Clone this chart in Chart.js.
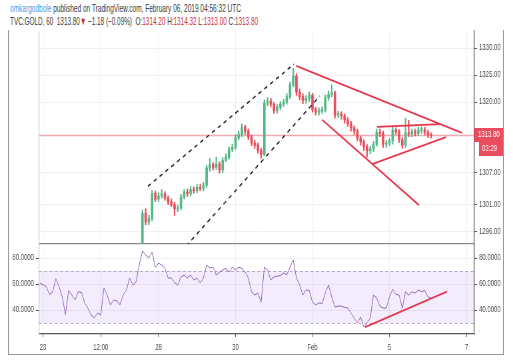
<!DOCTYPE html>
<html>
<head>
<meta charset="utf-8">
<script src="https://cdn.jsdelivr.net/npm/chart.js@4.4.0/dist/chart.umd.min.js"></script>
<style>
  body { margin: 0; width: 513px; height: 363px; background: #fff; overflow: hidden; position: relative;
         font-family: 'Liberation Sans', Arial, sans-serif; }
  canvas { position: absolute; left: 0; top: 0; }
  .hdr { position: absolute; left: 10px; white-space: nowrap; font-size: 11px; color: #3a3a3a; transform-origin: 0 0; }
  .r { color: #c9303c; }
  #frame { position: absolute; left: 8px; top: 30px; width: 494px; height: 324px; border: 1px solid #9a9a9a; border-top: none; }
</style>
</head>
<body>
<div class="hdr" style="top:2px" data-w="231"><span style="color:#3d9be9">omkargodbole</span> published on TradingView.com, February 06, 2019 04:56:32 UTC</div>
<div class="hdr" style="top:15px" data-w="248">TVC:GOLD, 60&nbsp; 1313.80<span class="r">▼</span> −1.18 (−0.09%)&nbsp; O:<span class="r">1314.20</span> H:<span class="r">1314.32</span> L:<span class="r">1313.00</span> C:<span class="r">1313.80</span></div>
<div id="frame"></div>
<canvas id="price" width="770" height="363" style="width:513px;height:363px"></canvas>
<canvas id="rsi" width="770" height="363" style="width:513px;height:363px"></canvas>
<script>
// time axis (2-hour bar index, 0 = Jan 23)
const xTickVals = [0, 18, 36, 60, 84, 108, 132];
const xTickLabels = ['23', '12:00', '28', '30', 'Feb', '5', '7'];
const priceTicks = [1296, 1301, 1307, 1320, 1325, 1330];
const rsiTicks = [40, 60, 80];

// candles, starting at bar 31
const candleStart = 31;
const opens = [1292.5,1299.4,1297.8,1298.4,1303.1,1302.0,1302.6,1303.0,1302.2,1301.5,
  1301.0,1300.2,1300.4,1302.4,1303.3,1303.0,1303.8,1303.6,1304.2,1304.0,
  1304.6,1307.8,1308.4,1307.9,1308.5,1307.4,1309.2,1309.8,1311.2,1311.6,
  1313.4,1314.0,1315.3,1314.6,1313.5,1312.4,1312.0,1311.0,1310.3,1319.8,
  1320.2,1319.6,1318.4,1319.0,1319.6,1320.0,1321.0,1323.2,1324.8,1321.8,
  1321.0,1320.3,1320.6,1321.3,1318.6,1318.1,1318.3,1318.6,1320.8,1321.4,
  1321.7,1317.6,1317.8,1317.4,1316.7,1316.0,1315.2,1314.6,1313.3,1312.6,
  1311.7,1311.0,1311.3,1312.2,1314.4,1314.2,1312.2,1312.4,1312.8,1314.8,
  1314.5,1313.0,1312.0,1314.3,1314.1,1314.5,1314.2,1314.8,1314.9,1314.4,
  1313.9];
const highs = [1300.0,1300.2,1299.0,1303.6,1303.5,1303.2,1303.8,1303.4,1302.6,1302.0,
  1301.4,1300.9,1302.9,1303.8,1303.9,1304.4,1304.3,1304.7,1304.8,1305.1,
  1308.3,1309.5,1308.8,1309.8,1308.9,1309.7,1310.4,1311.7,1312.2,1313.9,
  1314.6,1315.9,1315.7,1315.0,1313.9,1312.9,1312.4,1311.4,1320.4,1320.8,
  1320.7,1319.9,1319.5,1320.1,1320.5,1321.5,1323.7,1326.2,1325.2,1322.4,
  1321.5,1321.2,1321.9,1321.6,1319.0,1318.9,1319.1,1321.3,1322.0,1323.2,
  1322.0,1318.3,1318.2,1317.8,1317.1,1316.4,1315.6,1315.0,1313.7,1313.0,
  1312.1,1311.8,1312.7,1315.0,1315.0,1314.6,1312.9,1313.3,1315.3,1315.2,
  1314.9,1313.4,1317.0,1316.6,1315.0,1315.0,1315.3,1315.4,1315.3,1314.8,
  1314.3];
const lows = [1292.0,1297.3,1297.3,1298.0,1301.6,1301.6,1302.2,1301.8,1301.0,1300.6,
  1299.0,1299.7,1300.0,1302.0,1302.5,1302.6,1303.1,1303.2,1303.6,1303.6,
  1304.2,1307.2,1307.4,1307.5,1306.8,1306.9,1309.0,1309.4,1310.8,1311.2,
  1313.0,1313.6,1314.0,1313.0,1311.9,1311.4,1310.5,1309.6,1310.0,1319.3,
  1319.1,1317.9,1318.0,1318.6,1319.2,1319.6,1320.6,1322.8,1321.2,1320.4,
  1319.7,1319.8,1320.1,1318.1,1317.6,1317.6,1317.9,1318.1,1320.3,1321.0,
  1317.0,1317.1,1316.8,1316.1,1315.5,1314.6,1314.0,1312.8,1312.0,1311.0,
  1309.8,1310.4,1310.8,1311.8,1313.6,1311.6,1311.6,1311.9,1312.2,1314.0,
  1312.5,1311.4,1311.6,1313.6,1313.6,1313.7,1313.8,1314.2,1313.9,1313.4,
  1313.3];
const closes = [1299.4,1297.8,1298.4,1303.1,1302.0,1302.6,1303.0,1302.2,1301.5,1301.0,
  1300.2,1300.4,1302.4,1303.3,1303.0,1303.8,1303.6,1304.2,1304.0,1304.6,
  1307.8,1308.4,1307.9,1308.5,1307.4,1309.2,1309.8,1311.2,1311.6,1313.4,
  1314.0,1315.3,1314.6,1313.5,1312.4,1312.0,1311.0,1310.3,1319.8,1320.2,
  1319.6,1318.4,1319.0,1319.6,1320.0,1321.0,1323.2,1324.8,1321.8,1321.0,
  1320.3,1320.6,1321.3,1318.6,1318.1,1318.3,1318.6,1320.8,1321.4,1321.7,
  1317.6,1317.8,1317.4,1316.7,1316.0,1315.2,1314.6,1313.3,1312.6,1311.7,
  1311.0,1311.3,1312.2,1314.4,1314.2,1312.2,1312.4,1312.8,1314.8,1314.5,
  1313.0,1312.0,1314.3,1314.1,1314.5,1314.2,1314.8,1314.9,1314.4,1313.9,
  1313.8];

// RSI, starting at bar -1
const rsiStart = -1;
const rsiValues = [60.5,59.5,58.0,52.0,54.0,64.0,58.0,50.0,36.5,55.0,
  51.5,47.7,54.0,53.5,45.4,41.5,36.0,34.0,37.7,36.2,
  57.0,51.5,43.8,47.7,47.0,44.0,51.5,55.4,64.6,59.2,
  61.5,74.6,85.4,82.3,80.0,84.6,73.0,76.0,74.6,72.0,
  64.6,64.6,61.0,59.2,65.4,66.9,64.6,66.9,63.0,64.6,
  60.8,64.6,74.6,72.3,73.0,66.9,69.0,70.8,72.0,69.2,
  73.0,70.8,73.0,72.0,69.2,64.6,54.0,51.5,53.0,46.0,
  73.0,70.8,63.0,65.4,66.0,66.5,68.5,67.0,73.0,78.5,
  64.6,59.2,51.5,55.4,55.0,46.0,43.8,45.4,45.0,53.1,
  59.2,50.0,42.3,43.0,43.0,42.0,41.5,37.7,33.8,30.0,
  34.6,26.9,30.0,33.8,51.5,49.2,43.0,41.5,41.5,50.0,
  56.0,52.0,51.5,41.5,54.0,51.5,54.0,53.0,55.4,54.0,
  55.0,50.0,49.2];
const rsiBand = [30, 70];

const lastPrice = 1313.80;
const countdown = '03:29';

// drawings: [bar, price] end points
const channelUpper = [[32.7, 1304.4], [78.2, 1327.0]];
const channelLower = [[44.6, 1293.3], [86.3, 1321.1]];
const wedgeUpper = [[78.9, 1326.7], [130.6, 1314.3]];
const wedgeLower = [[87.0, 1316.7], [117.2, 1300.9]];
const triUpper = [[104.1, 1315.4], [123.8, 1315.9]];
const triLower = [[102.6, 1308.5], [125.6, 1313.5]];
const rsiTrend = [[100.4, 26.9], [125.9, 54.1]];

// the snapshot is squeezed horizontally: draw wide, show at 513px
const K = 770 / 513;
const xMin = -1.25, xMax = 134.35;
const green = '#53b987', red = '#eb4d5c', lineRed = '#e8334a';
const gridCol = '#eef0f3', axisCol = '#555';
const FONT = "'Liberation Sans', Arial, sans-serif";

Chart.defaults.font.family = FONT;
Chart.defaults.font.size = 9;
Chart.defaults.color = '#4a4a4a';

const candleCols = closes.map((c, i) => c >= opens[i] ? green : red);
const seg = (pts, color, width, dash) => ({
  type: 'line', data: pts.map(p => ({ x: p[0], y: p[1] })),
  borderColor: color, borderWidth: width, borderDash: dash || [], pointRadius: 0, fill: false
});

const xScale = (showLabels) => ({
  type: 'linear', min: xMin, max: xMax, offset: false,
  afterBuildTicks: s => { s.ticks = xTickVals.map(v => ({ value: v })); },
  afterFit: s => { s.height = showLabels ? 21 : 0; },
  ticks: { display: showLabels, autoSkip: false, maxRotation: 0, padding: 5,
           callback: (v) => xTickLabels[xTickVals.indexOf(v)] },
  grid: { color: gridCol, tickColor: axisCol, tickLength: 3, drawTicks: showLabels, offset: false },
  border: { display: true, color: showLabels ? axisCol : '#8a8a8a', width: 1.2 }
});

new Chart(document.getElementById('price'), {
  type: 'bar',
  data: {
    datasets: [
      { data: highs.map((h, i) => ({ x: candleStart + i, y: [lows[i], h] })),
        backgroundColor: candleCols, barThickness: 1.5, grouped: false, clip: 0, order: 3 },
      { data: opens.map((o, i) => ({ x: candleStart + i, y: [o, closes[i]] })),
        backgroundColor: candleCols, barThickness: 3, minBarLength: 1, grouped: false, clip: 0, order: 2 },
      Object.assign(seg([[xMin, lastPrice], [xMax, lastPrice]], '#f3a9b1', 1.5), { order: 4 }),
      seg(channelUpper, '#1d1d1d', 1.5, [5, 5]),
      seg(channelLower, '#1d1d1d', 1.5, [5, 5]),
      seg(wedgeUpper, lineRed, 1.8),
      seg(wedgeLower, lineRed, 1.8),
      seg(triUpper, lineRed, 1.8),
      seg(triLower, lineRed, 1.8)
    ]
  },
  options: {
    responsive: false, animation: false, events: [],
    layout: { padding: { left: 8 * K, right: 10 * K, top: 31, bottom: 119 } },
    plugins: { legend: { display: false }, tooltip: { enabled: false } },
    scales: {
      x: xScale(false),
      y: {
        position: 'right', min: 1293.7, max: 1333.15, beginAtZero: false,
        afterBuildTicks: s => { s.ticks = priceTicks.map(v => ({ value: v })); },
        afterFit: s => { s.width = 29 * K; },
        ticks: { autoSkip: false, padding: 2 * K, callback: v => Number(v).toFixed(2) },
        grid: { color: gridCol, tickColor: axisCol, tickLength: 3 * K },
        border: { display: true, color: axisCol, width: 1.3 }
      },
      yl: {
        position: 'left', min: 0, max: 1,
        afterFit: s => { s.width = 31 * K; },
        ticks: { display: false },
        grid: { drawOnChartArea: false, drawTicks: false },
        border: { display: true, color: '#bbb' }
      }
    }
  },
  plugins: [{
    id: 'lastPriceTag',
    afterDraw(chart) {
      const ctx = chart.ctx, a = chart.chartArea;
      const y = Math.round(chart.scales.y.getPixelForValue(lastPrice));
      ctx.save();
      ctx.fillStyle = '#e84c5d';
      ctx.fillRect(a.right, y - 7, 29 * K, 14);
      ctx.fillRect(a.right + 5 * K, y + 7, 24 * K, 14);
      ctx.fillStyle = '#fff';
      ctx.font = '9px ' + FONT;
      ctx.textBaseline = 'middle';
      ctx.textAlign = 'left';
      ctx.fillText(lastPrice.toFixed(2), a.right + 4 * K, y);
      ctx.fillText(countdown, a.right + 8 * K, y + 14);
      ctx.restore();
    }
  }]
});

const rsiY = (pos) => ({
  position: pos, min: 21.54, max: 90,
  afterBuildTicks: s => { s.ticks = rsiTicks.map(v => ({ value: v })); },
  afterFit: s => { s.width = (pos === 'right' ? 29 : 31) * K; },
  ticks: { autoSkip: false, padding: 2 * K, callback: v => Number(v).toFixed(4) },
  grid: { color: gridCol, tickColor: axisCol, tickLength: 3 * K, drawOnChartArea: pos === 'right' },
  border: { display: true, color: pos === 'right' ? axisCol : '#bbb', width: pos === 'right' ? 1.3 : 1 }
});

new Chart(document.getElementById('rsi'), {
  type: 'line',
  data: {
    datasets: [
      { data: rsiValues.map((v, i) => ({ x: rsiStart + i, y: v })),
        borderColor: '#9164b9', borderWidth: 1, pointRadius: 0, tension: 0, fill: false },
      seg(rsiTrend, lineRed, 1.8)
    ]
  },
  options: {
    responsive: false, animation: false, events: [],
    layout: { padding: { left: 8 * K, right: 10 * K, top: 245, bottom: 8 } },
    plugins: { legend: { display: false }, tooltip: { enabled: false } },
    scales: { x: xScale(true), y: rsiY('right'), yl: rsiY('left') }
  },
  plugins: [{
    id: 'rsiBand',
    beforeDatasetsDraw(chart) {
      const ctx = chart.ctx, a = chart.chartArea, s = chart.scales.y;
      const yTop = s.getPixelForValue(rsiBand[1]), yBot = s.getPixelForValue(rsiBand[0]);
      ctx.save();
      ctx.fillStyle = 'rgba(160, 100, 230, 0.12)';
      ctx.fillRect(a.left, yTop, a.right - a.left, yBot - yTop);
      ctx.strokeStyle = 'rgba(150, 130, 170, 0.7)';
      ctx.lineWidth = 1;
      ctx.setLineDash([4, 4]);
      [yTop, yBot].forEach(y => {
        ctx.beginPath(); ctx.moveTo(a.left, Math.round(y) + 0.5); ctx.lineTo(a.right, Math.round(y) + 0.5); ctx.stroke();
      });
      ctx.restore();
    }
  }]
});

// squeeze header lines to the reference width
document.querySelectorAll('.hdr').forEach(el => {
  const w = el.getBoundingClientRect().width;
  el.style.transform = 'scaleX(' + (Number(el.dataset.w) / w) + ')';
});
</script>
</body>
</html>
